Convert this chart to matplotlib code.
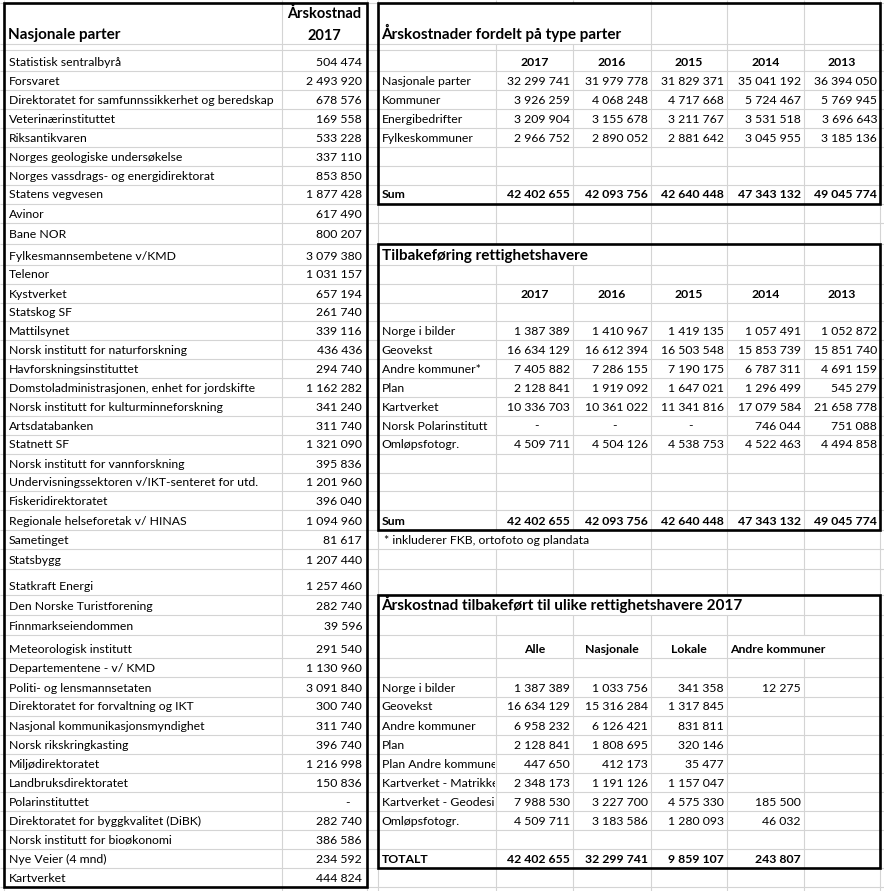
import matplotlib.pyplot as plt
from matplotlib.patches import Rectangle
from matplotlib.transforms import Bbox, TransformedBbox

plt.rcParams['font.family'] = ['Lato', 'DejaVu Sans']

# --- Nasjonale parter, årskostnad 2017 ('-' = ingen kostnad) ---
parter = [
    'Statistisk sentralbyrå', 'Forsvaret',
    'Direktoratet for samfunnssikkerhet og beredskap', 'Veterinærinstituttet',
    'Riksantikvaren', 'Norges geologiske undersøkelse',
    'Norges vassdrags- og energidirektorat', 'Statens vegvesen', 'Avinor',
    'Bane NOR', 'Fylkesmannsembetene v/KMD', 'Telenor', 'Kystverket',
    'Statskog SF', 'Mattilsynet', 'Norsk institutt for naturforskning',
    'Havforskningsinstituttet', 'Domstoladministrasjonen, enhet for jordskifte',
    'Norsk institutt for kulturminneforskning', 'Artsdatabanken', 'Statnett SF',
    'Norsk institutt for vannforskning',
    'Undervisningssektoren v/IKT-senteret for utd.', 'Fiskeridirektoratet',
    'Regionale helseforetak v/ HINAS', 'Sametinget', 'Statsbygg',
    'Statkraft Energi', 'Den Norske Turistforening', 'Finnmarkseiendommen',
    'Meteorologisk institutt', 'Departementene - v/ KMD',
    'Politi- og lensmannsetaten', 'Direktoratet for forvaltning og IKT',
    'Nasjonal kommunikasjonsmyndighet', 'Norsk rikskringkasting',
    'Miljødirektoratet', 'Landbruksdirektoratet', 'Polarinstituttet',
    'Direktoratet for byggkvalitet (DiBK)', 'Norsk institutt for bioøkonomi',
    'Nye Veier (4 mnd)', 'Kartverket']
kostnad_2017 = [
    504474, 2493920, 678576, 169558, 533228, 337110, 853850, 1877428, 617490,
    800207, 3079380, 1031157, 657194, 261740, 339116, 436436, 294740, 1162282,
    341240, 311740, 1321090, 395836, 1201960, 396040, 1094960, 81617, 1207440,
    1257460, 282740, 39596, 291540, 1130960, 3091840, 300740, 311740, 396740,
    1216998, 150836, '-', 282740, 386586, 234592, 444824]

# --- Årskostnader fordelt på type parter ---
aar = ['2017', '2016', '2015', '2014', '2013']
typer = ['Nasjonale parter', 'Kommuner', 'Energibedrifter', 'Fylkeskommuner']
nasjonale_parter = [32299741, 31979778, 31829371, 35041192, 36394050]
kommuner = [3926259, 4068248, 4717668, 5724467, 5769945]
energibedrifter = [3209904, 3155678, 3211767, 3531518, 3696643]
fylkeskommuner = [2966752, 2890052, 2881642, 3045955, 3185136]
sum_typer = [42402655, 42093756, 42640448, 47343132, 49045774]

# --- Tilbakeføring rettighetshavere ---
rettighetshavere = ['Norge i bilder', 'Geovekst', 'Andre kommuner*', 'Plan',
                    'Kartverket', 'Norsk Polarinstitutt', 'Omløpsfotogr.']
norge_i_bilder = [1387389, 1410967, 1419135, 1057491, 1052872]
geovekst = [16634129, 16612394, 16503548, 15853739, 15851740]
andre_kommuner = [7405882, 7286155, 7190175, 6787311, 4691159]
plan = [2128841, 1919092, 1647021, 1296499, 545279]
kartverket = [10336703, 10361022, 11341816, 17079584, 21658778]
polarinstitutt = ['-', '-', '-', 746044, 751088]
omlopsfoto = [4509711, 4504126, 4538753, 4522463, 4494858]
sum_tilbake = [42402655, 42093756, 42640448, 47343132, 49045774]

# --- Årskostnad tilbakeført til ulike rettighetshavere 2017 (None = tom celle) ---
kategorier = ['Alle', 'Nasjonale', 'Lokale', 'Andre kommuner']
fordelt_navn = ['Norge i bilder', 'Geovekst', 'Andre kommuner', 'Plan',
                'Plan Andre kommuner', 'Kartverket - Matrikkel',
                'Kartverket - Geodesi', 'Omløpsfotogr.']
alle_2017 = [1387389, 16634129, 6958232, 2128841, 447650, 2348173, 7988530, 4509711]
nasjonale_2017 = [1033756, 15316284, 6126421, 1808695, 412173, 1191126, 3227700, 3183586]
lokale_2017 = [341358, 1317845, 831811, 320146, 35477, 1157047, 4575330, 1280093]
andre_komm_2017 = [12275, None, None, None, None, None, 185500, 46032]
totalt_2017 = [42402655, 32299741, 9859107, 243807]

# ---- regnearkets rutenett (piksler fra toppen) ----
rad = [3, 44, 50, 70.5, 90, 109, 128, 147, 166, 184.5, 203.5, 222.5, 243.5,
       265, 283.5, 302.5, 321, 340, 359, 378, 397, 416, 434.5, 453.5, 472.5,
       491, 510, 530, 549, 569, 595, 615, 635, 658, 677, 696.5, 715.5, 735,
       754, 773, 792, 811, 830, 849, 868, 887]
kol = [4, 282, 367, 378, 496, 573, 651, 727, 804, 880]
verdikol = [(496, 573), (573, 651), (651, 727), (727, 804), (804, 880)]

W, H = 884, 891
fig = plt.figure(figsize=(W / 100, H / 100), dpi=100)
ax = fig.add_axes([0, 0, 1, 1])
ax.set_xlim(0, W)
ax.set_ylim(H, 0)
ax.axis('off')

FS = 8.8       # vanlig tekst
FS_TITTEL = 11
flyt = []      # tekster som flyter over nabocellene (skjuler rutenettet)


def fmt(v):
    if v is None:
        return ''
    if v == '-':
        return '-'
    return f'{v:,}'.replace(',', ' ')


def tekst(r, x, s, ha='left', bold=False, size=FS, over=False, clip=None):
    t = ax.text(x, rad[r + 1] - 5, s, ha=ha, va='baseline', fontsize=size,
                fontweight='bold' if bold else 'normal', color='black')
    if over:
        flyt.append((r, t))
    if clip is not None:
        t.set_clip_box(TransformedBbox(Bbox([[clip[0], rad[r]], [clip[1], rad[r + 1]]]),
                                       ax.transData))
        t.set_clip_on(True)
    return t


def verdi(r, k, v, dash_pad=31, bold=False):
    x0, x1 = verdikol[k]
    s = fmt(v)
    if s == '-':
        tekst(r, x1 - dash_pad, s, ha='right', bold=bold)
    else:
        tekst(r, x1 - 3, s, ha='right', bold=bold)


# venstre tabell
tekst(0, 8, 'Nasjonale parter', bold=True, size=FS_TITTEL)
ax.text(324.5, 18, 'Årskostnad', ha='center', va='baseline', fontsize=10.5, fontweight='bold')
ax.text(324.5, 39.5, '2017', ha='center', va='baseline', fontsize=10.5, fontweight='bold')
for i, (navn, v) in enumerate(zip(parter, kostnad_2017)):
    tekst(2 + i, 9, navn)
    if v == '-':
        tekst(2 + i, 350, '-', ha='right')
    else:
        tekst(2 + i, 362, fmt(v), ha='right')

# tabell 1
tekst(0, 381.5, 'Årskostnader fordelt på type parter', bold=True, size=FS_TITTEL, over=True)
for k, a in enumerate(aar):
    tekst(2, sum(verdikol[k]) / 2, a, ha='center', bold=True)
for i, (navn, rekke) in enumerate(zip(typer, [nasjonale_parter, kommuner, energibedrifter, fylkeskommuner])):
    tekst(3 + i, 381.5, navn)
    for k, v in enumerate(rekke):
        verdi(3 + i, k, v)
tekst(9, 381.5, 'Sum', bold=True)
for k, v in enumerate(sum_typer):
    verdi(9, k, v, bold=True)

# tabell 2
tekst(12, 381.5, 'Tilbakeføring rettighetshavere', bold=True, size=FS_TITTEL, over=True)
for k, a in enumerate(aar):
    tekst(14, sum(verdikol[k]) / 2, a, ha='center', bold=True)
rekker = [norge_i_bilder, geovekst, andre_kommuner, plan, kartverket, polarinstitutt, omlopsfoto]
for i, (navn, rekke) in enumerate(zip(rettighetshavere, rekker)):
    tekst(16 + i, 381.5, navn)
    for k, v in enumerate(rekke):
        verdi(16 + i, k, v, dash_pad=34)
tekst(26, 381.5, 'Sum', bold=True)
for k, v in enumerate(sum_tilbake):
    verdi(26, k, v, bold=True)
tekst(27, 384, '* inkluderer FKB, ortofoto og plandata', over=True)

# tabell 3
tekst(30, 381.5, 'Årskostnad tilbakeført til ulike rettighetshavere 2017', bold=True,
      size=FS_TITTEL, over=True)
for k, kat in enumerate(kategorier[:3]):
    tekst(32, sum(verdikol[k]) / 2, kat, ha='center', bold=True)
tekst(32, 730, kategorier[3], bold=True, over=True)
for i, navn in enumerate(fordelt_navn):
    tekst(34 + i, 381.5, navn, clip=(378, 495))
    for k, rekke in enumerate([alle_2017, nasjonale_2017, lokale_2017, andre_komm_2017]):
        verdi(34 + i, k, rekke[i])
tekst(43, 381.5, 'TOTALT', bold=True)
for k, v in enumerate(totalt_2017):
    verdi(43, k, v, bold=True)

# rutenett
GRID = '#d4d4d4'
renderer = fig.canvas.get_renderer()
skjult = set()
for r, t in flyt:
    bb = t.get_window_extent(renderer).transformed(ax.transData.inverted())
    for x in kol:
        if bb.x0 < x < bb.x1:
            skjult.add((r, x))

for y in rad:
    ax.hlines(y, 0, W, color=GRID, lw=0.8, zorder=0)
for x in kol:
    ax.vlines(x, 0, rad[0], color=GRID, lw=0.8, zorder=0)
    ax.vlines(x, rad[-1], H, color=GRID, lw=0.8, zorder=0)
    for r in range(len(rad) - 1):
        if (r, x) not in skjult:
            ax.vlines(x, rad[r], rad[r + 1], color=GRID, lw=0.8, zorder=0)

# tykke rammer rundt tabellene
for x0, y0, x1, y1 in [(4, rad[0], 367, rad[45]), (378, rad[0], 880, rad[10]),
                       (378, rad[12], 880, rad[27]), (378, rad[30], 880, rad[44])]:
    ax.add_patch(Rectangle((x0, y0), x1 - x0, y1 - y0, fill=False, ec='black', lw=1.9, zorder=3))

fig.savefig('out.png', dpi=100, facecolor='white')
